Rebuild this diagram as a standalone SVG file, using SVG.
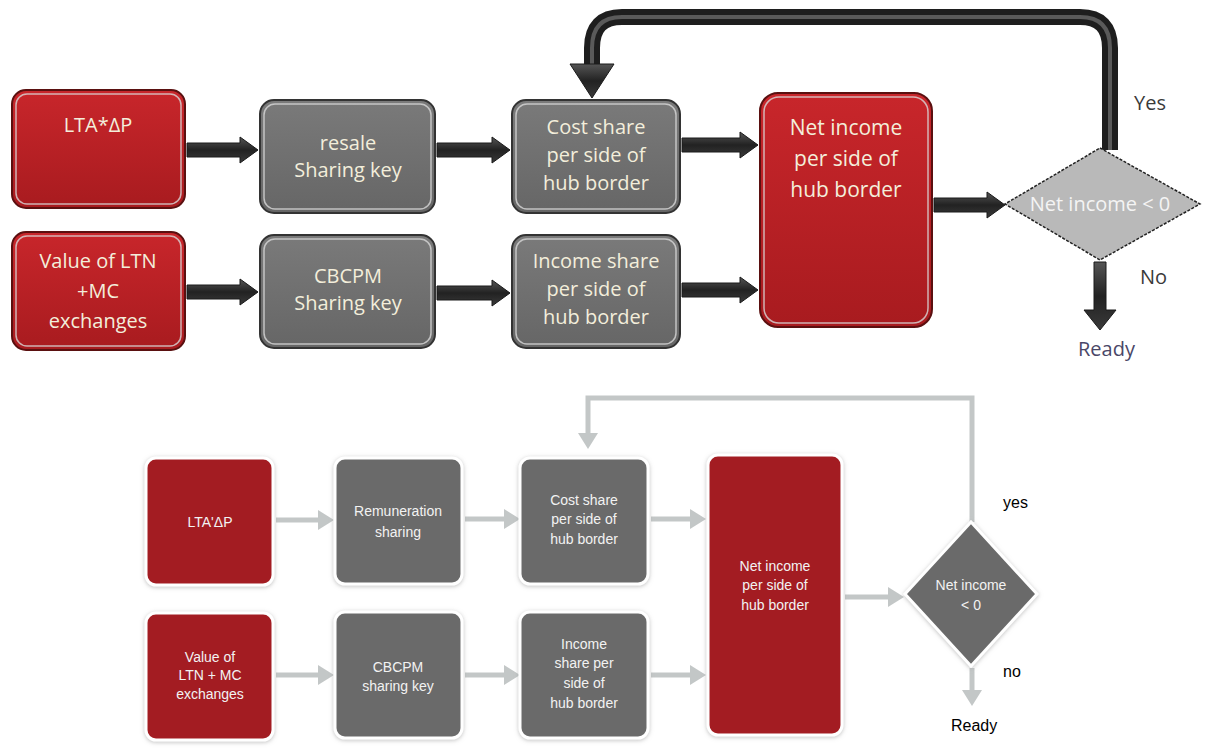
<svg xmlns="http://www.w3.org/2000/svg" width="1215" height="748" viewBox="0 0 1215 748">
<defs>
<linearGradient id="gRed" x1="0" y1="0" x2="0" y2="1"><stop offset="0" stop-color="#c8262b"/><stop offset="1" stop-color="#a81b1f"/></linearGradient>
<linearGradient id="gGray" x1="0" y1="0" x2="0" y2="1"><stop offset="0" stop-color="#7a7a7a"/><stop offset="1" stop-color="#666"/></linearGradient>
<linearGradient id="gArr" x1="0" y1="0" x2="0" y2="1"><stop offset="0" stop-color="#555"/><stop offset="0.5" stop-color="#222"/><stop offset="1" stop-color="#3a3a3a"/></linearGradient>
<filter id="halo" x="-10%" y="-10%" width="120%" height="120%"><feDropShadow dx="0" dy="1" stdDeviation="2" flood-color="#999" flood-opacity="0.6"/></filter>
<style>
.tr{fill:url(#gRed);stroke:#5a1010;stroke-width:2}
.tg{fill:url(#gGray);stroke:#333;stroke-width:2}
.in{fill:none;stroke:#d8d8d8;stroke-width:1.5;opacity:0.8}
.tt{font-family:"Open Sans","Liberation Sans",sans-serif;font-size:20px;fill:#f3eedb;text-anchor:middle}
.br{fill:#a31f24;stroke:#fff;stroke-width:3;filter:url(#halo)}
.bg{fill:#6b6b6b;stroke:#fff;stroke-width:3;filter:url(#halo)}
.bt{font-family:"Liberation Sans",Arial,sans-serif;font-size:14px;fill:#f2f2f2;text-anchor:middle}
.ta{fill:url(#gArr);stroke:#1a1a1a;stroke-width:1}
.la{fill:none;stroke:#c3c7c7;stroke-width:5}
.lh{fill:#c3c7c7}
.lbl{font-family:"Liberation Sans",Arial,sans-serif;font-size:16px;fill:#000}
.lblt{font-family:"Open Sans","Liberation Sans",sans-serif;font-size:20px;fill:#3a3a3a}
</style>
</defs>
<rect width="1215" height="748" fill="#fff"/>

<g id="connectors">
<path class="ta" d="M187,143 H240 V137 L258,150 L240,163 V157 H187 Z"/>
<path class="ta" d="M437,143 H492 V137 L510,150 L492,163 V157 H437 Z"/>
<path class="ta" d="M682,138 H740 V132 L758,145 L740,158 V152 H682 Z"/>
<path class="ta" d="M187,285 H240 V279 L258,292 L240,305 V299 H187 Z"/>
<path class="ta" d="M437,286 H492 V280 L510,293 L492,306 V300 H437 Z"/>
<path class="ta" d="M682,283 H740 V277 L758,290 L740,303 V297 H682 Z"/>
<path class="ta" d="M934,198 H987 V192 L1005,205 L987,218 V212 H934 Z"/>
<path class="ta" d="M1094,262 H1106 V310 H1116 L1100,330 L1084,310 H1094 Z"/>
<path d="M1110,150 V48 Q1110,17 1080,17 H622 Q592,17 592,48 V68" fill="none" stroke="#1e1e1e" stroke-width="16"/>
<path d="M1110,150 V48 Q1110,17 1080,17 H622 Q592,17 592,48 V68" fill="none" stroke="#5a5a5a" stroke-width="4"/>
<path class="ta" d="M570,64 H614 L592,98 Z"/>
<path class="la" d="M276,520 H322"/><path class="lh" d="M334,520 L318,510 V530 Z"/>
<path class="la" d="M465,519 H508"/><path class="lh" d="M520,519 L504,509 V529 Z"/>
<path class="la" d="M651,519 H694"/><path class="lh" d="M706,519 L690,509 V529 Z"/>
<path class="la" d="M276,675 H322"/><path class="lh" d="M334,675 L318,665 V685 Z"/>
<path class="la" d="M465,675 H508"/><path class="lh" d="M520,675 L504,665 V685 Z"/>
<path class="la" d="M651,675 H694"/><path class="lh" d="M706,675 L690,665 V685 Z"/>
<path class="la" d="M845,597 H892"/><path class="lh" d="M904,597 L888,587 V607 Z"/>
<path class="la" d="M972,522 V398 H588 V436"/><path class="lh" d="M588,449 L578,433 H598 Z"/>
<path class="la" d="M972,668 V693"/><path class="lh" d="M972,706 L962,690 H982 Z"/>
</g>

<g id="t-lta"><rect class="tr" x="12" y="90" width="173" height="118" rx="14"/><rect class="in" x="16" y="94" width="165" height="110" rx="11"/><text class="tt" x="98" y="132">LTA*ΔP</text></g>
<g id="t-value"><rect class="tr" x="12" y="232" width="173" height="118" rx="14"/><rect class="in" x="16" y="236" width="165" height="110" rx="11"/><text class="tt" x="98" y="268">Value of LTN</text><text class="tt" x="98" y="298">+MC</text><text class="tt" x="98" y="328">exchanges</text></g>
<g id="t-resale"><rect class="tg" x="260" y="100" width="175" height="113" rx="14"/><rect class="in" x="264" y="104" width="167" height="105" rx="11"/><text class="tt" x="348" y="150">resale</text><text class="tt" x="348" y="177">Sharing key</text></g>
<g id="t-cbcpm"><rect class="tg" x="260" y="235" width="175" height="113" rx="14"/><rect class="in" x="264" y="239" width="167" height="105" rx="11"/><text class="tt" x="348" y="283">CBCPM</text><text class="tt" x="348" y="310">Sharing key</text></g>
<g id="t-cost"><rect class="tg" x="512" y="100" width="168" height="113" rx="14"/><rect class="in" x="516" y="104" width="160" height="105" rx="11"/><text class="tt" x="596" y="134">Cost share</text><text class="tt" x="596" y="162">per side of</text><text class="tt" x="596" y="190">hub border</text></g>
<g id="t-income"><rect class="tg" x="512" y="235" width="168" height="113" rx="14"/><rect class="in" x="516" y="239" width="160" height="105" rx="11"/><text class="tt" x="596" y="268">Income share</text><text class="tt" x="596" y="296">per side of</text><text class="tt" x="596" y="324">hub border</text></g>
<g id="t-net"><rect class="tr" x="760" y="93" width="172" height="234" rx="18"/><rect class="in" x="764" y="97" width="164" height="226" rx="15"/><text class="tt" x="846" y="135" style="font-size:21px">Net income</text><text class="tt" x="846" y="166" style="font-size:21px">per side of</text><text class="tt" x="846" y="197" style="font-size:21px">hub border</text></g>
<g id="t-decision"><path d="M1100,148 L1200,204 L1100,260 L1005,204 Z" fill="#b9b9b9" stroke="#222" stroke-width="1.5" stroke-dasharray="3,1.5"/><text class="tt" x="1100" y="211" style="fill:#f4f4f4">Net income &lt; 0</text></g>
<text class="lblt" x="1134" y="110">Yes</text>
<text class="lblt" x="1140" y="284">No</text>
<text class="lblt" x="1078" y="356" style="fill:#4a4768">Ready</text>

<g id="b-lta"><rect class="br" x="146" y="458" width="127" height="127" rx="10"/><text class="bt" x="210" y="527">LTA'ΔP</text></g>
<g id="b-value"><rect class="br" x="146" y="613" width="127" height="127" rx="10"/><text class="bt" x="210" y="662">Value of</text><text class="bt" x="210" y="680">LTN + MC</text><text class="bt" x="210" y="699">exchanges</text></g>
<g id="b-remun"><rect class="bg" x="335" y="458" width="127" height="126" rx="10"/><text class="bt" x="398" y="516">Remuneration</text><text class="bt" x="398" y="537">sharing</text></g>
<g id="b-cbcpm"><rect class="bg" x="335" y="612" width="127" height="126" rx="10"/><text class="bt" x="398" y="672">CBCPM</text><text class="bt" x="398" y="691">sharing key</text></g>
<g id="b-cost"><rect class="bg" x="520" y="458" width="128" height="126" rx="10"/><text class="bt" x="584" y="505">Cost share</text><text class="bt" x="584" y="524">per side of</text><text class="bt" x="584" y="544">hub border</text></g>
<g id="b-income"><rect class="bg" x="520" y="612" width="128" height="126" rx="10"/><text class="bt" x="584" y="649">Income</text><text class="bt" x="584" y="668">share per</text><text class="bt" x="584" y="688">side of</text><text class="bt" x="584" y="708">hub border</text></g>
<g id="b-net"><rect class="br" x="708" y="455" width="134" height="280" rx="10"/><text class="bt" x="775" y="571">Net income</text><text class="bt" x="775" y="590">per side of</text><text class="bt" x="775" y="610">hub border</text></g>
<g id="b-decision"><path d="M971,522 L1037,594 L971,666 L905,594 Z" fill="#6b6b6b" stroke="#fff" stroke-width="3" filter="url(#halo)"/><text class="bt" x="971" y="590">Net income</text><text class="bt" x="971" y="610">&lt; 0</text></g>
<text class="lbl" x="1003" y="508">yes</text>
<text class="lbl" x="1003" y="677">no</text>
<text class="lbl" x="951" y="731">Ready</text>
</svg>
